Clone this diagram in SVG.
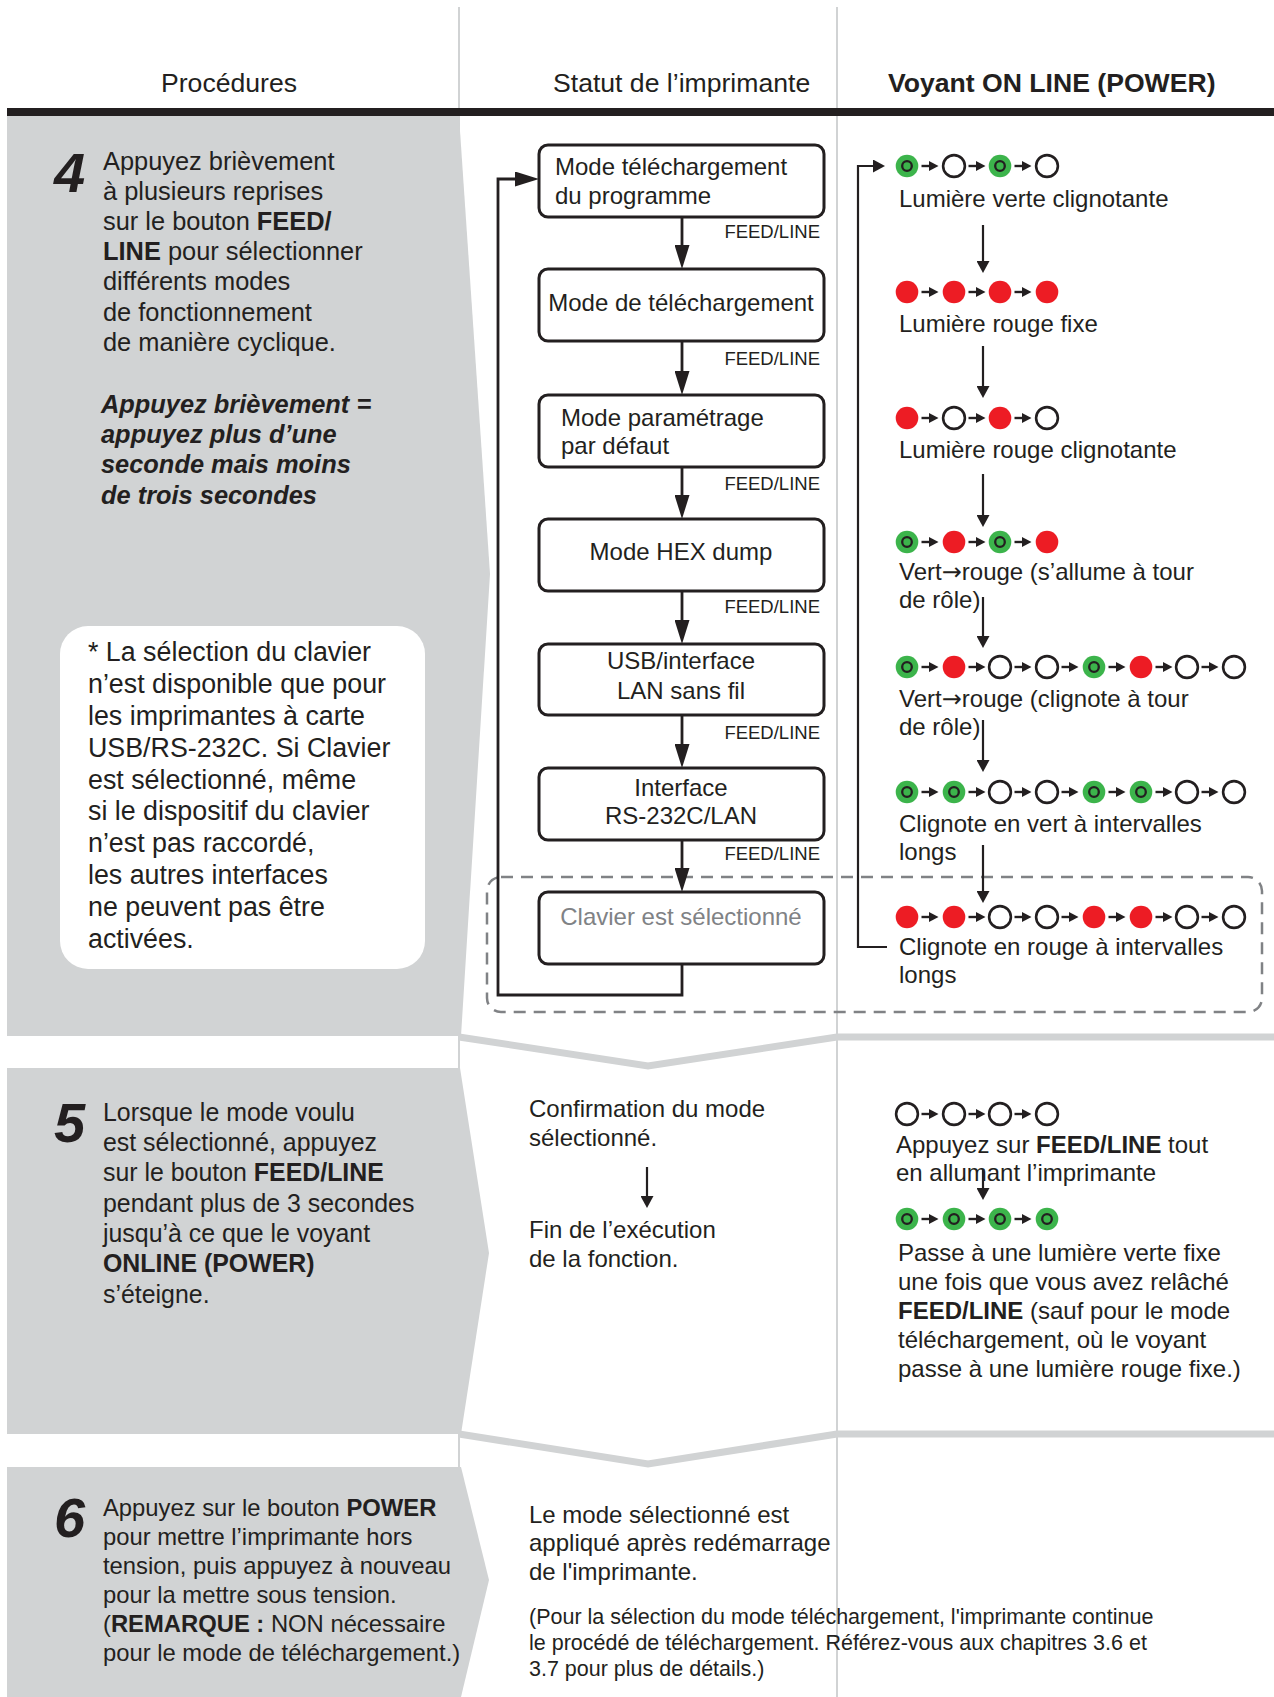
<svg xmlns="http://www.w3.org/2000/svg" width="1274" height="1697" viewBox="0 0 1274 1697">
<style>
text{font-family:"Liberation Sans",Arial,Helvetica,sans-serif;fill:#231f20}
.h{font-size:26.6px}
.p{font-size:25.4px}
.p5{font-size:24.9px}
.p6{font-size:23.8px}
.n{font-size:26.8px}
.m{font-size:24px}
.f{font-size:18.5px}
.sm{font-size:21.5px}
.b{font-weight:bold}
.bi{font-weight:bold;font-style:italic}
.num{font-size:56px;font-weight:bold;font-style:italic}
.arr{font-family:"DejaVu Sans",sans-serif;font-weight:normal}
.c{text-anchor:middle}
.r{text-anchor:end}
.gray{fill:#808285}
.band{fill:#d1d3d4}
.chev{fill:none;stroke:#d1d3d4;stroke-width:7;stroke-linejoin:miter}
.div{stroke:#d1d3d4;stroke-width:2}
.box{fill:#fff;stroke:#231f20;stroke-width:3}
.ln{fill:none;stroke:#231f20;stroke-width:2.8}
.lm{fill:none;stroke:#231f20;stroke-width:2.2}
.dash{fill:none;stroke:#808285;stroke-width:2.5;stroke-dasharray:12 8}
</style>
<defs>
<marker id="ah" viewBox="0 0 24 15" markerWidth="24" markerHeight="15" refX="14" refY="7.5" orient="auto" markerUnits="userSpaceOnUse"><path d="M0,0 L24,7.5 L0,15 z" fill="#231f20"/></marker>
<marker id="am" viewBox="0 0 12 13" markerWidth="12" markerHeight="13" refX="6" refY="6.5" orient="auto" markerUnits="userSpaceOnUse"><path d="M0,0 L12,6.5 L0,13 z" fill="#231f20"/></marker>
<g id="G"><circle r="11.3" fill="#3cb44b"/><circle r="4.8" fill="none" stroke="#231f20" stroke-width="2.3"/></g>
<g id="R"><circle r="11.3" fill="#ed1c24"/></g>
<g id="W"><circle r="10.9" fill="#fff" stroke="#231f20" stroke-width="2.6"/></g>
<g id="sa"><path d="M14.5,0 H24" stroke="#231f20" stroke-width="2.4"/><path d="M22,-5 L31.5,0 L22,5 z" fill="#231f20"/></g>
</defs>

<rect width="1274" height="1697" fill="#fff"/>

<g id="backdrop">
<line class="div" x1="459" y1="7" x2="459" y2="1697"/>
<line class="div" x1="837" y1="7" x2="837" y2="1697"/>
<polygon class="band" points="7,116 459,116 490,574 461,1036 7,1036"/>
<polygon class="band" points="7,1068 460,1068 489,1253 461,1434 7,1434"/>
<polygon class="band" points="7,1467 461,1467 489,1580 461,1697 7,1697"/>
<polyline class="chev" points="459,1037 648,1066 837,1037 1274,1037"/>
<polyline class="chev" points="459,1434 648,1464 837,1434 1274,1434"/>
<rect x="7" y="108" width="1267" height="8" fill="#231f20"/>
</g>

<g id="header">
<text class="h c" x="229" y="92">Procédures</text>
<text class="h" x="553" y="92">Statut de l’imprimante</text>
<text class="h b" x="888" y="92">Voyant ON LINE (POWER)</text>
</g>

<g id="step4">
<text class="num" x="54" y="192">4</text>
<text class="p" x="103" y="170">Appuyez brièvement</text>
<text class="p" x="103" y="200">à plusieurs reprises</text>
<text class="p" x="103" y="230">sur le bouton <tspan class="b">FEED/</tspan></text>
<text class="p" x="103" y="260"><tspan class="b">LINE</tspan> pour sélectionner</text>
<text class="p" x="103" y="290">différents modes</text>
<text class="p" x="103" y="321">de fonctionnement</text>
<text class="p" x="103" y="351">de manière cyclique.</text>
<text class="p bi" x="101" y="413">Appuyez brièvement =</text>
<text class="p bi" x="101" y="443">appuyez plus d’une</text>
<text class="p bi" x="101" y="473">seconde mais moins</text>
<text class="p bi" x="101" y="504">de trois secondes</text>
</g>

<g id="note">
<rect x="60" y="626" width="365" height="343" rx="28" fill="#fff"/>
<text class="n" x="88" y="661">* La sélection du clavier</text>
<text class="n" x="88" y="693">n’est disponible que pour</text>
<text class="n" x="88" y="725">les imprimantes à carte</text>
<text class="n" x="88" y="757">USB/RS-232C. Si Clavier</text>
<text class="n" x="88" y="789">est sélectionné, même</text>
<text class="n" x="88" y="820">si le dispositif du clavier</text>
<text class="n" x="88" y="852">n’est pas raccordé,</text>
<text class="n" x="88" y="884">les autres interfaces</text>
<text class="n" x="88" y="916">ne peuvent pas être</text>
<text class="n" x="88" y="948">activées.</text>
</g>

<g id="keyboard-zone">
<rect class="dash" x="487" y="877" width="775" height="135" rx="14"/>
</g>

<g id="box1"><rect class="box" x="539" y="145" width="285" height="72" rx="9"/>
<text class="m" x="555" y="175">Mode téléchargement</text><text class="m" x="555" y="204">du programme</text></g>
<g id="box2"><rect class="box" x="539" y="269" width="285" height="72" rx="9"/>
<text class="m c" x="681" y="311">Mode de téléchargement</text></g>
<g id="box3"><rect class="box" x="539" y="395" width="285" height="72" rx="9"/>
<text class="m" x="561" y="426">Mode paramétrage</text><text class="m" x="561" y="454">par défaut</text></g>
<g id="box4"><rect class="box" x="539" y="519" width="285" height="72" rx="9"/>
<text class="m c" x="681" y="560">Mode HEX dump</text></g>
<g id="box5"><rect class="box" x="539" y="644" width="285" height="71" rx="9"/>
<text class="m c" x="681" y="669">USB/interface</text><text class="m c" x="681" y="699">LAN sans fil</text></g>
<g id="box6"><rect class="box" x="539" y="768" width="285" height="72" rx="9"/>
<text class="m c" x="681" y="796">Interface</text><text class="m c" x="681" y="824">RS-232C/LAN</text></g>
<g id="box7"><rect class="box" x="539" y="892" width="285" height="72" rx="9"/>
<text class="m c gray" x="681" y="925">Clavier est sélectionné</text></g>

<g id="feed-labels">
<text class="f r" x="820" y="238">FEED/LINE</text>
<text class="f r" x="820" y="365">FEED/LINE</text>
<text class="f r" x="820" y="490">FEED/LINE</text>
<text class="f r" x="820" y="613">FEED/LINE</text>
<text class="f r" x="820" y="739">FEED/LINE</text>
<text class="f r" x="820" y="860">FEED/LINE</text>
</g>

<g id="led-row1">
<use href="#G" x="907" y="166"/><use href="#sa" x="907" y="166"/>
<use href="#W" x="954" y="166"/><use href="#sa" x="954" y="166"/>
<use href="#G" x="1000" y="166"/><use href="#sa" x="1000" y="166"/>
<use href="#W" x="1047" y="166"/>
<text class="m" x="899" y="207">Lumière verte clignotante</text>
</g>
<g id="led-row2">
<use href="#R" x="907" y="292"/><use href="#sa" x="907" y="292"/>
<use href="#R" x="954" y="292"/><use href="#sa" x="954" y="292"/>
<use href="#R" x="1000" y="292"/><use href="#sa" x="1000" y="292"/>
<use href="#R" x="1047" y="292"/>
<text class="m" x="899" y="332">Lumière rouge fixe</text>
</g>
<g id="led-row3">
<use href="#R" x="907" y="418"/><use href="#sa" x="907" y="418"/>
<use href="#W" x="954" y="418"/><use href="#sa" x="954" y="418"/>
<use href="#R" x="1000" y="418"/><use href="#sa" x="1000" y="418"/>
<use href="#W" x="1047" y="418"/>
<text class="m" x="899" y="458">Lumière rouge clignotante</text>
</g>
<g id="led-row4">
<use href="#G" x="907" y="542"/><use href="#sa" x="907" y="542"/>
<use href="#R" x="954" y="542"/><use href="#sa" x="954" y="542"/>
<use href="#G" x="1000" y="542"/><use href="#sa" x="1000" y="542"/>
<use href="#R" x="1047" y="542"/>
<text class="m" x="899" y="580">Vert<tspan class="arr">→</tspan>rouge (s’allume à tour</text>
<text class="m" x="899" y="608">de rôle)</text>
</g>
<g id="led-row5">
<use href="#G" x="907" y="667"/><use href="#sa" x="907" y="667"/>
<use href="#R" x="954" y="667"/><use href="#sa" x="954" y="667"/>
<use href="#W" x="1000" y="667"/><use href="#sa" x="1000" y="667"/>
<use href="#W" x="1047" y="667"/><use href="#sa" x="1047" y="667"/>
<use href="#G" x="1094" y="667"/><use href="#sa" x="1094" y="667"/>
<use href="#R" x="1141" y="667"/><use href="#sa" x="1141" y="667"/>
<use href="#W" x="1187" y="667"/><use href="#sa" x="1187" y="667"/>
<use href="#W" x="1234" y="667"/>
<text class="m" x="899" y="707">Vert<tspan class="arr">→</tspan>rouge (clignote à tour</text>
<text class="m" x="899" y="735">de rôle)</text>
</g>
<g id="led-row6">
<use href="#G" x="907" y="792"/><use href="#sa" x="907" y="792"/>
<use href="#G" x="954" y="792"/><use href="#sa" x="954" y="792"/>
<use href="#W" x="1000" y="792"/><use href="#sa" x="1000" y="792"/>
<use href="#W" x="1047" y="792"/><use href="#sa" x="1047" y="792"/>
<use href="#G" x="1094" y="792"/><use href="#sa" x="1094" y="792"/>
<use href="#G" x="1141" y="792"/><use href="#sa" x="1141" y="792"/>
<use href="#W" x="1187" y="792"/><use href="#sa" x="1187" y="792"/>
<use href="#W" x="1234" y="792"/>
<text class="m" x="899" y="832">Clignote en vert à intervalles</text>
<text class="m" x="899" y="860">longs</text>
</g>
<g id="led-row7">
<use href="#R" x="907" y="917"/><use href="#sa" x="907" y="917"/>
<use href="#R" x="954" y="917"/><use href="#sa" x="954" y="917"/>
<use href="#W" x="1000" y="917"/><use href="#sa" x="1000" y="917"/>
<use href="#W" x="1047" y="917"/><use href="#sa" x="1047" y="917"/>
<use href="#R" x="1094" y="917"/><use href="#sa" x="1094" y="917"/>
<use href="#R" x="1141" y="917"/><use href="#sa" x="1141" y="917"/>
<use href="#W" x="1187" y="917"/><use href="#sa" x="1187" y="917"/>
<use href="#W" x="1234" y="917"/>
<text class="m" x="899" y="955">Clignote en rouge à intervalles</text>
<text class="m" x="899" y="983">longs</text>
</g>

<g id="step5">
<text class="num" x="54" y="1142">5</text>
<text class="p5" x="103" y="1121">Lorsque le mode voulu</text>
<text class="p5" x="103" y="1151">est sélectionné, appuyez</text>
<text class="p5" x="103" y="1181">sur le bouton <tspan class="b">FEED/LINE</tspan></text>
<text class="p5" x="103" y="1212">pendant plus de 3 secondes</text>
<text class="p5" x="103" y="1242">jusqu’à ce que le voyant</text>
<text class="p5 b" x="103" y="1272">ONLINE (POWER)</text>
<text class="p5" x="103" y="1303">s’éteigne.</text>
</g>
<g id="step5-status">
<text class="m" x="529" y="1117">Confirmation du mode</text>
<text class="m" x="529" y="1146">sélectionné.</text>
<text class="m" x="529" y="1238">Fin de l’exécution</text>
<text class="m" x="529" y="1267">de la fonction.</text>
</g>
<g id="step5-led">
<use href="#W" x="907" y="1114"/><use href="#sa" x="907" y="1114"/>
<use href="#W" x="954" y="1114"/><use href="#sa" x="954" y="1114"/>
<use href="#W" x="1000" y="1114"/><use href="#sa" x="1000" y="1114"/>
<use href="#W" x="1047" y="1114"/>
<text class="m" x="896" y="1153">Appuyez sur <tspan class="b">FEED/LINE</tspan> tout</text>
<text class="m" x="896" y="1181">en allumant l’imprimante</text>
<use href="#G" x="907" y="1219"/><use href="#sa" x="907" y="1219"/>
<use href="#G" x="954" y="1219"/><use href="#sa" x="954" y="1219"/>
<use href="#G" x="1000" y="1219"/><use href="#sa" x="1000" y="1219"/>
<use href="#G" x="1047" y="1219"/>
<text class="m" x="898" y="1261">Passe à une lumière verte fixe</text>
<text class="m" x="898" y="1290">une fois que vous avez relâché</text>
<text class="m" x="898" y="1319"><tspan class="b">FEED/LINE</tspan> (sauf pour le mode</text>
<text class="m" x="898" y="1348">téléchargement, où le voyant</text>
<text class="m" x="898" y="1377">passe à une lumière rouge fixe.)</text>
</g>

<g id="step6">
<text class="num" x="54" y="1537">6</text>
<text class="p6" x="103" y="1516">Appuyez sur le bouton <tspan class="b">POWER</tspan></text>
<text class="p6" x="103" y="1545">pour mettre l’imprimante hors</text>
<text class="p6" x="103" y="1574">tension, puis appuyez à nouveau</text>
<text class="p6" x="103" y="1603">pour la mettre sous tension.</text>
<text class="p6" x="103" y="1632">(<tspan class="b">REMARQUE :</tspan> NON nécessaire</text>
<text class="p6" x="103" y="1661">pour le mode de téléchargement.)</text>
</g>
<g id="step6-status">
<text class="m" x="529" y="1523">Le mode sélectionné est</text>
<text class="m" x="529" y="1551">appliqué après redémarrage</text>
<text class="m" x="529" y="1580">de l'imprimante.</text>
<text class="sm" x="529" y="1624">(Pour la sélection du mode téléchargement, l'imprimante continue</text>
<text class="sm" x="529" y="1650">le procédé de téléchargement. Référez-vous aux chapitres 3.6 et</text>
<text class="sm" x="529" y="1676">3.7 pour plus de détails.)</text>
</g>

<g id="connectors">
<path class="ln" d="M682,217 V259" marker-end="url(#ah)"/>
<path class="ln" d="M682,341 V385" marker-end="url(#ah)"/>
<path class="ln" d="M682,467 V509" marker-end="url(#ah)"/>
<path class="ln" d="M682,591 V634" marker-end="url(#ah)"/>
<path class="ln" d="M682,715 V758" marker-end="url(#ah)"/>
<path class="ln" d="M682,840 V882" marker-end="url(#ah)"/>
<path class="ln" d="M682,964 V995 H498 V179 H529" marker-end="url(#ah)"/>
<path class="lm" d="M887,947 H858 V166 H879" marker-end="url(#am)"/>
<path class="lm" d="M983,225 V267" marker-end="url(#am)"/>
<path class="lm" d="M983,346 V392" marker-end="url(#am)"/>
<path class="lm" d="M983,474 V521" marker-end="url(#am)"/>
<path class="lm" d="M983,597 V642" marker-end="url(#am)"/>
<path class="lm" d="M983,720 V766" marker-end="url(#am)"/>
<path class="lm" d="M983,845 V897" marker-end="url(#am)"/>
<path class="lm" d="M983,1169 V1194" marker-end="url(#am)"/>
<path class="lm" d="M647,1167 V1202" marker-end="url(#am)"/>
</g>
</svg>
